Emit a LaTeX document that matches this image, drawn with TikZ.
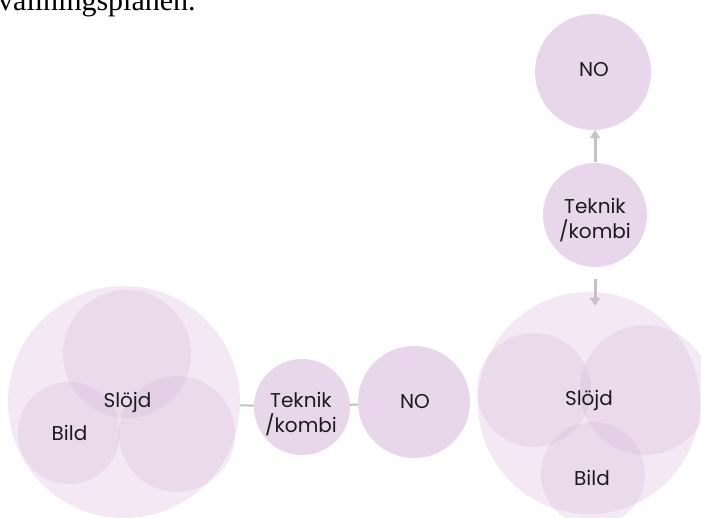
\documentclass[tikz,border=0pt]{standalone}
\usepackage{fontspec}
\setmainfont{Poppins}
\newfontfamily\serifb{Liberation Serif}
\usetikzlibrary{arrows.meta}
\definecolor{outerc}{HTML}{F3E8F4}
\definecolor{mainc}{HTML}{E8D6EA}
\definecolor{innerc}{HTML}{D6BADB}
\definecolor{linec}{HTML}{C8C0C8}
\definecolor{textc}{HTML}{1C1A1C}
\begin{document}
\begin{tikzpicture}[x=1pt,y=-1pt,
  bubble/.style={circle,fill=mainc,inner sep=0pt},
  outer/.style={circle,fill=outerc,inner sep=0pt},
  innerfill/.style={fill=innerc,fill opacity=0.3},
  lbl/.style={text=textc,font=\fontsize{20}{25}\selectfont,inner sep=0pt,align=center},
  link/.style={draw=linec,line width=2pt},
  arr/.style={draw=linec,line width=3pt,-{Triangle[width=10pt,length=8pt]}}]
\useasboundingbox (0,0) rectangle (701,518);
\clip (0,0) rectangle (701,518);
\fill[white] (0,0) rectangle (701,518);
\node[anchor=base west, font=\serifb\fontsize{30}{30}\selectfont, inner sep=0pt] (head) at (-2,11) {vallningsplanen.};
% left group
\node[outer,minimum size=232pt] (bigL) at (124,402) {};
\fill[innerfill] (127,354) circle[radius=64];
\fill[innerfill] (69,433) circle[radius=51];
\fill[innerfill] (177,434) circle[radius=58];
\node[lbl,anchor=base] (sl1) at (127.5,407) {Slöjd};
\node[lbl,anchor=base] (bi1) at (69.5,440) {Bild};
% middle
\node[bubble,minimum size=96pt] (tek1) at (302,407) {};
\node[lbl] (tek1t) at (301,414) {Teknik\\/kombi};
\node[bubble,minimum size=112pt] (no1) at (414,402) {};
\node[lbl,anchor=base] (no1t) at (415,408) {NO};
% right group
\node[outer,minimum size=222pt] (bigR) at (589,403) {};
\fill[innerfill] (534,390) circle[radius=57];
\fill[innerfill] (645,390) circle[radius=65];
\fill[innerfill] (593,474) circle[radius=52];
\node[lbl,anchor=base] (sl2) at (589,405) {Slöjd};
\node[lbl,anchor=base] (bi2) at (592,485) {Bild};
% top
\node[bubble,minimum size=116pt] (no2) at (593,72) {};
\node[lbl,anchor=base] (no2t) at (594,77) {NO};
\node[bubble,minimum size=104pt] (tek2) at (595,215) {};
\node[lbl] (tek2t) at (595,220) {Teknik\\/kombi};
% connectors
\draw[link] (bigL) -- (tek1);
\draw[link] (tek1) -- (no1);
\draw[arr,shorten <=1pt] (tek2.north) -- (tek2.north |- no2.south);
\draw[arr,shorten <=12pt,shorten >=-14pt] (tek2.south) -- (tek2.south |- bigR.north);
\end{tikzpicture}
\end{document}
